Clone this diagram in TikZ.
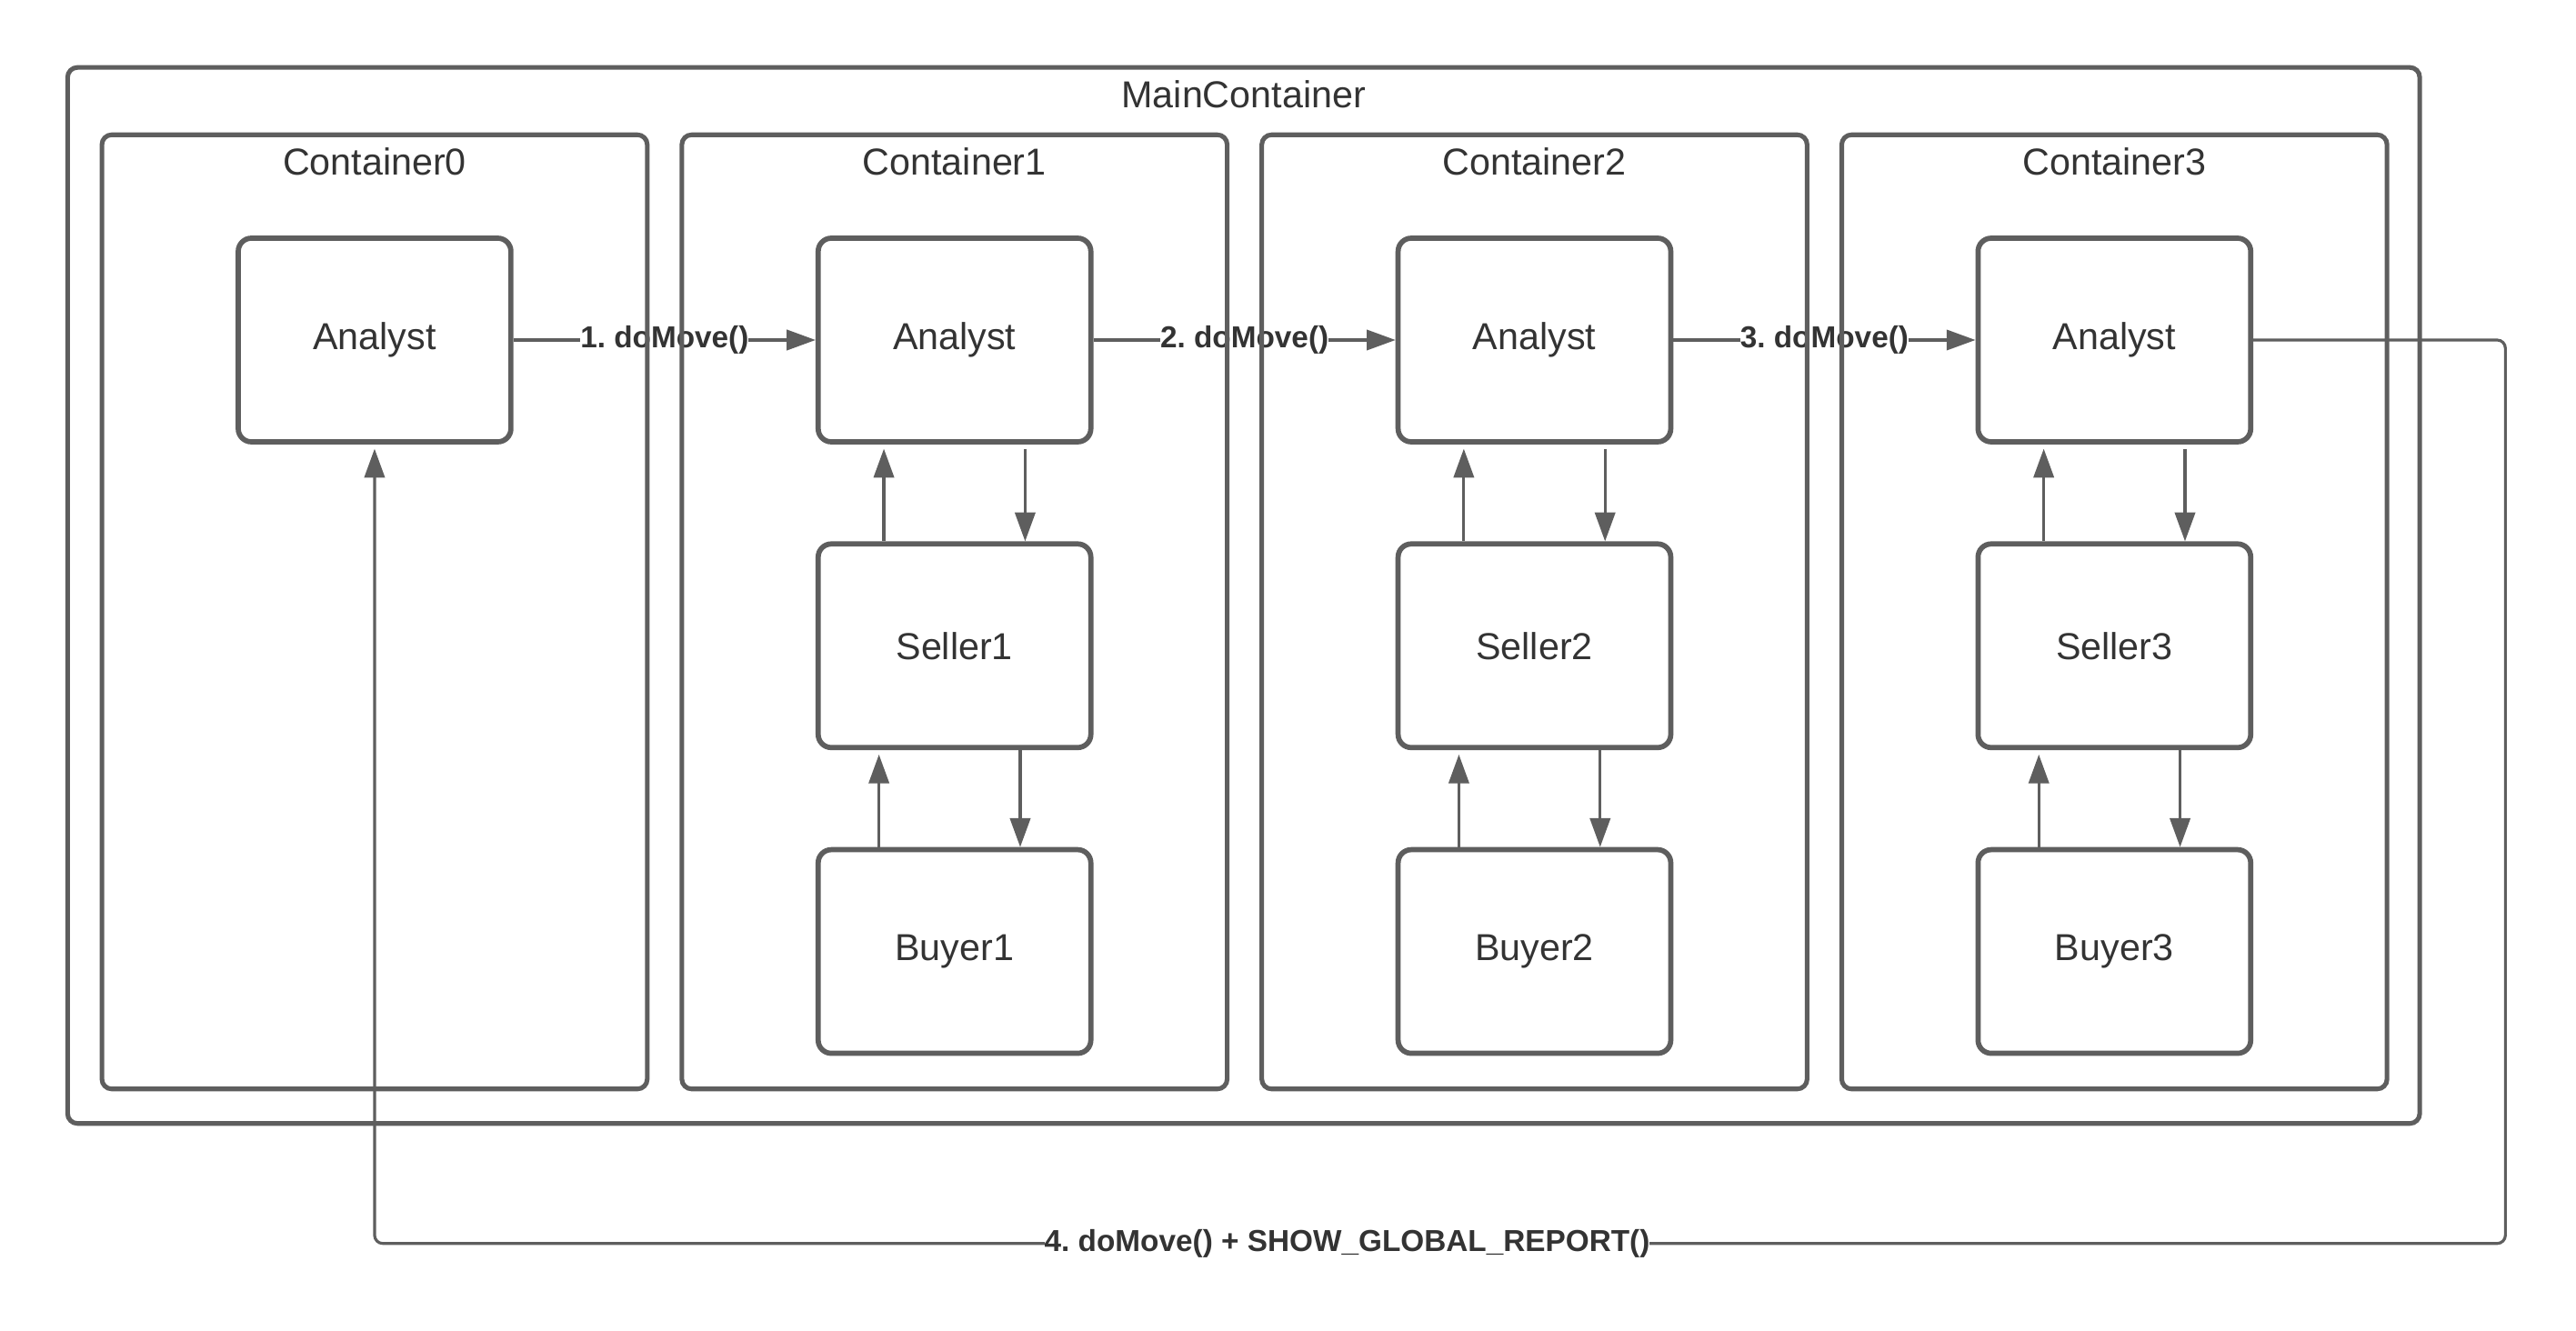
\documentclass[tikz,border=0pt]{standalone}
\usepackage{fontspec}
\setmainfont{Liberation Sans}
\usetikzlibrary{positioning,arrows.meta}
\frenchspacing
\definecolor{linegray}{HTML}{5E5E5E}
\definecolor{textgray}{HTML}{333333}
\tikzset{
	agent/.style={draw=linegray, line width=1.8pt, rounded corners=0.16cm, minimum width=3.32cm, minimum height=2.48cm, text=textgray, font=\fontsize{13}{15}\selectfont},
	group/.style={draw=linegray, line width=1.6pt, rounded corners=0.12cm},
	title/.style={text=textgray, inner sep=0pt, font=\fontsize{13}{15}\selectfont},
	flow/.style={draw=linegray, line width=1pt, -{Triangle[length=10pt,width=7pt]}},
	msg/.style={fill=white, text=textgray, inner sep=0pt, font=\fontsize{10.5}{12}\selectfont\bfseries}
}
\begin{document}
\begin{tikzpicture}[x=0.02cm,y=-0.02cm]
			\useasboundingbox (0,0) rectangle (1568,810);
			% agents
			\node[agent] (a0) at (228,207) {Analyst};
			\node[agent] (a1) at (581,207) {Analyst};
			\node[agent, below=1.18cm of a1] (s1) {Seller1};
			\node[agent, below=1.18cm of s1] (b1) {Buyer1};
			\node[agent] (a2) at (934,207) {Analyst};
			\node[agent, below=1.18cm of a2] (s2) {Seller2};
			\node[agent, below=1.18cm of s2] (b2) {Buyer2};
			\node[agent] (a3) at (1287,207) {Analyst};
			\node[agent, below=1.18cm of a3] (s3) {Seller3};
			\node[agent, below=1.18cm of s3] (b3) {Buyer3};
			% inside the containers
			\draw[flow, shorten >=1.5pt] ([xshift=-0.86cm]s1.north) -- ([xshift=-0.86cm]a1.south);
			\draw[flow, shorten <=1.5pt] ([xshift=0.86cm]a1.south) -- ([xshift=0.86cm]s1.north);
			\draw[flow, shorten >=1.5pt] ([xshift=-0.92cm]b1.north) -- ([xshift=-0.92cm]s1.south);
			\draw[flow] ([xshift=0.8cm]s1.south) -- ([xshift=0.8cm]b1.north);
			\draw[flow, shorten >=1.5pt] ([xshift=-0.86cm]s2.north) -- ([xshift=-0.86cm]a2.south);
			\draw[flow, shorten <=1.5pt] ([xshift=0.86cm]a2.south) -- ([xshift=0.86cm]s2.north);
			\draw[flow, shorten >=1.5pt] ([xshift=-0.92cm]b2.north) -- ([xshift=-0.92cm]s2.south);
			\draw[flow] ([xshift=0.8cm]s2.south) -- ([xshift=0.8cm]b2.north);
			\draw[flow, shorten >=1.5pt] ([xshift=-0.86cm]s3.north) -- ([xshift=-0.86cm]a3.south);
			\draw[flow, shorten <=1.5pt] ([xshift=0.86cm]a3.south) -- ([xshift=0.86cm]s3.north);
			\draw[flow, shorten >=1.5pt] ([xshift=-0.92cm]b3.north) -- ([xshift=-0.92cm]s3.south);
			\draw[flow] ([xshift=0.8cm]s3.south) -- ([xshift=0.8cm]b3.north);
			% moves
			\draw[flow] (a0) -- node[msg] (m1) {1. doMove()} (a1);
			\draw[flow] (a1) -- node[msg] (m2) {2. doMove()} (a2);
			\draw[flow] (a2) -- node[msg] (m3) {3. doMove()} (a3);
			\coordinate (turn) at (1525,757);
			\draw[flow, rounded corners=0.1cm, shorten >=1.5pt] (a3.east) -| (turn) -| (a0.south);
			\node[msg] (m4) at (820,757) {4. doMove() + SHOW\_GLOBAL\_REPORT()};
			% containers
			\node[group, minimum width=28.64cm, minimum height=12.86cm] (main) at (757,362.5) {};
			\node[title, below=5pt of main.north] (maint) {MainContainer};
			\node[group, minimum width=6.64cm, minimum height=11.62cm] (c0) at (228,372.5) {};
			\node[group, minimum width=6.64cm, minimum height=11.62cm] (c1) at (581,372.5) {};
			\node[group, minimum width=6.64cm, minimum height=11.62cm] (c2) at (934,372.5) {};
			\node[group, minimum width=6.64cm, minimum height=11.62cm] (c3) at (1287,372.5) {};
			\node[title, below=5pt of c0.north] (c0t) {Container0};
			\node[title, below=5pt of c1.north] (c1t) {Container1};
			\node[title, below=5pt of c2.north] (c2t) {Container2};
			\node[title, below=5pt of c3.north] (c3t) {Container3};
		\end{tikzpicture}
\end{document}
